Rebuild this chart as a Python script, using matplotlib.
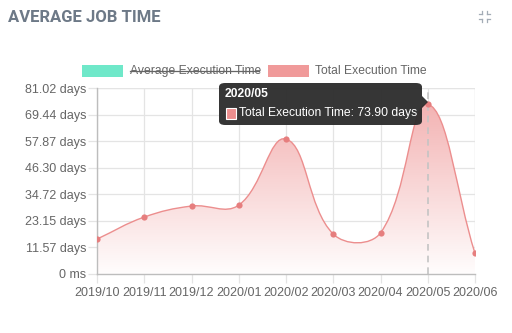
import numpy as np
import matplotlib
matplotlib.use("Agg")
import matplotlib.pyplot as plt
from matplotlib.path import Path
from matplotlib.patches import PathPatch, FancyBboxPatch, Rectangle, Polygon
from matplotlib.colors import LinearSegmentedColormap

plt.rcParams['font.family'] = ['Liberation Sans', 'DejaVu Sans']

months = ["2019/10", "2019/11", "2019/12", "2020/01", "2020/02",
          "2020/03", "2020/04", "2020/05", "2020/06"]
total_days = [15.2, 24.8, 29.6, 30.0, 58.8, 17.4, 17.9, 73.90, 9.0]
ytick_vals = [0, 11.574, 23.148, 34.722, 46.296, 57.870, 69.444, 81.02]
ytick_labels = ["0 ms", "11.57 days", "23.15 days", "34.72 days",
                "46.30 days", "57.87 days", "69.44 days", "81.02 days"]
hover_idx = 7

line_col = "#ec8e8e"
grid_col = "#e4e4e4"
axis_col = "#bdbdbd"
text_col = "#666666"

fig = plt.figure(figsize=(5.12, 3.33), dpi=100)
ax = fig.add_axes([97 / 512, 1 - 274 / 333, 378 / 512, 186 / 333])

x = np.arange(len(months), dtype=float)
y = np.array(total_days)
ymax = ytick_vals[-1]

# bezier control points the way chart.js builds them (tension 0.4), in pixel space
sx = 378 / (len(x) - 1)
sy = 186 / ymax
px, py = x * sx, y * sy
t = 0.4
c1, c2 = [], []
for i in range(len(x)):
    p0 = max(i - 1, 0)
    p2 = min(i + 1, len(x) - 1)
    d01 = np.hypot(px[i] - px[p0], py[i] - py[p0])
    d12 = np.hypot(px[p2] - px[i], py[p2] - py[i])
    s01 = d01 / (d01 + d12) if d01 + d12 else 0
    s12 = d12 / (d01 + d12) if d01 + d12 else 0
    dx, dy = px[p2] - px[p0], py[p2] - py[p0]
    c1.append((px[i] - t * s01 * dx, py[i] - t * s01 * dy))
    c2.append((px[i] + t * s12 * dx, py[i] + t * s12 * dy))

verts = [(x[0], y[0])]
codes = [Path.MOVETO]
for i in range(len(x) - 1):
    a = c2[i]
    b = c1[i + 1]
    verts += [(a[0] / sx, min(max(a[1] / sy, 0), ymax)),
              (b[0] / sx, min(max(b[1] / sy, 0), ymax)),
              (x[i + 1], y[i + 1])]
    codes += [Path.CURVE4] * 3
line_path = Path(verts, codes)

fill_path = Path(verts + [(x[-1], 0), (x[0], 0), (x[0], y[0])],
                 codes + [Path.LINETO, Path.LINETO, Path.CLOSEPOLY])

# gradient under the curve
cmap = LinearSegmentedColormap.from_list(
    "fade", [(1, 1, 1, 1), (0.93, 0.55, 0.55, 1)])
grad = np.linspace(0.02, 0.72, 256).reshape(-1, 1)
img = ax.imshow(grad, extent=[x[0], x[-1], 0, ymax], origin="lower",
                aspect="auto", cmap=cmap, vmin=0, vmax=1, zorder=1)
clip = PathPatch(fill_path, transform=ax.transData, facecolor="none",
                 edgecolor="none")
ax.add_patch(clip)
img.set_clip_path(clip)

ax.add_patch(PathPatch(line_path, facecolor="none", edgecolor=line_col,
                       lw=1.0, zorder=3))
ax.scatter(x, y, s=20, color="#e67e7e", zorder=4, linewidths=0)

ax.set_xlim(x[0], x[-1])
ax.set_ylim(0, ymax)
ax.set_xticks(x)
ax.set_xticklabels(months)
ax.set_yticks(ytick_vals)
ax.set_yticklabels(ytick_labels)
ax.grid(True, color=grid_col, lw=0.9, zorder=0)
ax.set_axisbelow(True)
for s in ["top", "right"]:
    ax.spines[s].set_visible(False)
for s in ["left", "bottom"]:
    ax.spines[s].set_color(axis_col)
    ax.spines[s].set_linewidth(1.0)
ax.tick_params(colors=grid_col, labelcolor=text_col, labelsize=9,
               length=6.5, width=0.9, pad=1)
ax.tick_params(axis="x", pad=2.5)
ax.plot([x[-1], x[-1]], [0, ymax], color=grid_col, lw=0.9, zorder=0)
ax.plot([x[0], x[-1]], [ymax, ymax], color=grid_col, lw=0.9, zorder=0)

# hover line
ax.axvline(x[hover_idx], color="#c4c4c4", lw=1.2, ls=(0, (4, 3)), zorder=2)

# tooltip box
tx0, ty0, tw, th = 219, 83, 203, 42
box = FancyBboxPatch((tx0 / 512, 1 - (ty0 + th) / 333), tw / 512, th / 333,
                     boxstyle="round,pad=0,rounding_size=0.012",
                     transform=fig.transFigure, facecolor="#2b2b2b",
                     edgecolor="none", alpha=0.95, zorder=10)
fig.patches.append(box)
caret = Polygon([((tx0 + tw) / 512, 1 - 96 / 333),
                 ((tx0 + tw + 6) / 512, 1 - 102 / 333),
                 ((tx0 + tw) / 512, 1 - 108 / 333)],
                closed=True, transform=fig.transFigure,
                facecolor="#2b2b2b", edgecolor="none", alpha=0.95, zorder=10)
fig.patches.append(caret)
fig.text(225 / 512, 1 - 94 / 333, months[hover_idx], color="white",
         fontsize=8.7, fontweight="bold", va="center", ha="left", zorder=11)
fig.patches.append(Rectangle((226 / 512, 1 - 119 / 333), 10 / 512, 11 / 333,
                             transform=fig.transFigure, facecolor=line_col,
                             edgecolor="white", lw=0.8, zorder=11))
fig.text(239 / 512, 1 - 113.5 / 333,
         "Total Execution Time: %.2f days" % total_days[hover_idx],
         color="white", fontsize=8.7, va="center", ha="left", zorder=11)

# legend
fig.patches.append(Rectangle((82 / 512, 1 - 77 / 333), 41 / 512, 12 / 333,
                             transform=fig.transFigure, facecolor="#6fe8c9",
                             edgecolor="none"))
fig.text(130 / 512, 1 - 71 / 333, "Average Execution Time", color=text_col,
         fontsize=8.7, va="center", ha="left")
fig.add_artist(plt.Line2D([130 / 512, 259 / 512], [1 - 71 / 333, 1 - 71 / 333],
                          color=text_col, lw=0.9, transform=fig.transFigure))
fig.patches.append(Rectangle((268 / 512, 1 - 77 / 333), 41 / 512, 12 / 333,
                             transform=fig.transFigure, facecolor="#f09a9a",
                             edgecolor="none"))
fig.text(315 / 512, 1 - 71 / 333, "Total Execution Time", color=text_col,
         fontsize=8.7, va="center", ha="left")

# header
fig.text(8 / 512, 1 - 17.5 / 333, "AVERAGE JOB TIME", color="#6d7987",
         fontsize=12, fontweight="bold", family="Roboto", va="center",
         ha="left")

# collapse icon
ix, iy = 484.5 / 512, 1 - 16.5 / 333
u, v = 1 / 512, 1 / 333
for sxn, syn in [(-1, 1), (1, 1), (-1, -1), (1, -1)]:
    cx, cy = ix + sxn * 2.5 * u, iy + syn * 2.5 * v
    fig.add_artist(plt.Line2D([cx, cx], [cy, cy + syn * 3 * v],
                              color="#a3acb6", lw=0.9,
                              transform=fig.transFigure))
    fig.add_artist(plt.Line2D([cx, cx + sxn * 3 * u], [cy, cy],
                              color="#a3acb6", lw=0.9,
                              transform=fig.transFigure))

fig.savefig("out.png", dpi=100, facecolor="white")
